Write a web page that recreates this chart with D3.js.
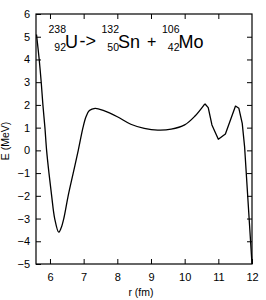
<!DOCTYPE html>
<html>
<head>
<meta charset="utf-8">
<script src="https://cdn.jsdelivr.net/npm/d3@7"></script>
<style>
  body { margin: 0; background: #fff; }
  text { font-family: "Liberation Sans", Arial, sans-serif; fill: #000; }
</style>
</head>
<body>
<div id="chart"></div>
<script>
// chart data
var rValues = [5.6, 5.68, 5.74, 5.79, 5.85, 5.90, 5.97, 6.05, 6.14, 6.26, 6.33, 6.41, 6.54, 6.69, 6.84,
               6.98, 7.07, 7.17, 7.34, 7.6, 8.0, 8.4, 8.8, 9.2, 9.6, 10.0, 10.3, 10.6, 10.7, 10.81,
               11.0, 11.21, 11.51, 11.61, 11.71, 11.78, 12.0];
var eValues = [5.1, 4.0, 3.0, 2.0, 1.0, 0.0, -1.0, -2.0, -3.0, -3.6, -3.42, -3.0, -2.0, -1.0, 0.0,
               1.0, 1.48, 1.75, 1.85, 1.75, 1.48, 1.15, 0.97, 0.89, 0.93, 1.12, 1.5, 2.05, 1.88, 1.12,
               0.49, 0.72, 1.95, 1.85, 1.19, 0.16, -5.0];
var xTicks = [6, 7, 8, 9, 10, 11, 12];
var yTicks = [-5, -4, -3, -2, -1, 0, 1, 2, 3, 4, 5, 6];
// the smooth well ends at the first peak, after that the points are joined straight
var smoothEnd = 27;

var svgWidth = 266;
var svgHeight = 300;
var margin = { top: 14, right: 14, bottom: 36, left: 36 };
var width = svgWidth - margin.left - margin.right;
var height = svgHeight - margin.top - margin.bottom;

var svg = d3.select("#chart").append("svg")
    .attr("width", svgWidth)
    .attr("height", svgHeight);

var chartGroup = svg.append("g")
    .attr("transform", `translate(${margin.left}, ${margin.top})`);

var xScale = d3.scaleLinear().domain([5.585, 12]).range([0, width]);
var yScale = d3.scaleLinear().domain([-5, 6]).range([height, 0]);

// axes with inward ticks, like gnuplot
function styleAxis(g) {
    g.select(".domain").remove();
    g.selectAll(".tick line").attr("stroke", "#000");
    g.selectAll(".tick text").style("font-size", "11px").attr("fill", "#000");
}

chartGroup.append("g")
    .attr("transform", `translate(0, ${height})`)
    .call(d3.axisBottom(xScale).tickValues(xTicks).tickSizeInner(-5).tickPadding(9).tickFormat(d3.format("d")))
    .call(styleAxis);

chartGroup.append("g")
    .call(d3.axisTop(xScale).tickValues(xTicks.slice(0, -1)).tickSizeInner(-5).tickFormat(""))
    .call(styleAxis);

chartGroup.append("g")
    .call(d3.axisLeft(yScale).tickValues(yTicks).tickSizeInner(-5).tickPadding(6).tickFormat(d => d < 0 ? "\u2212" + (-d) : d))
    .call(styleAxis);

chartGroup.append("g")
    .attr("transform", `translate(${width}, 0)`)
    .call(d3.axisRight(yScale).tickValues(yTicks.slice(1, -1)).tickSizeInner(-5).tickFormat(""))
    .call(styleAxis);

// frame
chartGroup.append("rect")
    .attr("width", width)
    .attr("height", height)
    .attr("fill", "none")
    .attr("stroke", "#000")
    .attr("stroke-width", 1.2);

// curve
var points = rValues.map((r, i) => [r, eValues[i]]);
var smoothLine = d3.line()
    .x(d => xScale(d[0]))
    .y(d => yScale(d[1]))
    .curve(d3.curveCatmullRom.alpha(0.5));
var straightLine = d3.line()
    .x(d => xScale(d[0]))
    .y(d => yScale(d[1]));

chartGroup.append("path")
    .datum(points.slice(0, smoothEnd + 1))
    .attr("fill", "none")
    .attr("stroke", "#000")
    .attr("stroke-width", 1.3)
    .attr("d", smoothLine);

chartGroup.append("path")
    .datum(points.slice(smoothEnd))
    .attr("fill", "none")
    .attr("stroke", "#000")
    .attr("stroke-width", 1.3)
    .attr("stroke-linejoin", "round")
    .attr("d", straightLine);

// axis labels
svg.append("text")
    .attr("x", 141)
    .attr("y", 296)
    .attr("text-anchor", "middle")
    .style("font-size", "10.5px")
    .text("r (fm)");

svg.append("text")
    .attr("transform", `translate(8.5, 141) rotate(-90)`)
    .attr("text-anchor", "middle")
    .style("font-size", "10.5px")
    .text("E (MeV)");

// reaction label: A over Z then element symbol
var nuclides = [
    { a: "238", z: "92", sym: "U", x: 66 },
    { a: "132", z: "50", sym: "Sn", x: 119 },
    { a: "106", z: "42", sym: "Mo", x: 179.5 }
];
var title = svg.append("g");
nuclides.forEach(function(n) {
    title.append("text").attr("x", n.x).attr("y", 33).attr("text-anchor", "end")
        .style("font-size", "10.5px").text(n.a);
    title.append("text").attr("x", n.x).attr("y", 50.5).attr("text-anchor", "end")
        .style("font-size", "10.5px").text(n.z);
    title.append("text").attr("x", n.x - 1).attr("y", 48)
        .style("font-size", "18px").text(n.sym);
});
title.append("text").attr("x", 79.5).attr("y", 47).style("font-size", "18px").text("->");
title.append("text").attr("x", 147).attr("y", 47).style("font-size", "16px").text("+");
</script>
</body>
</html>
